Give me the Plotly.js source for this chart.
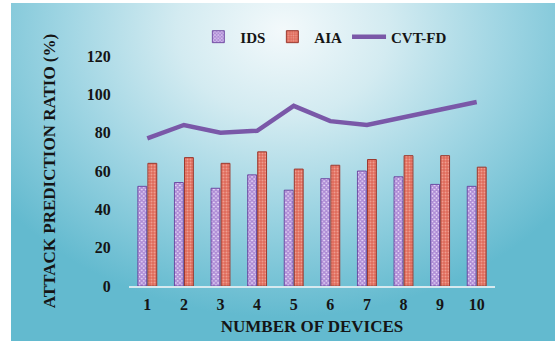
<!DOCTYPE html>
<html>
<head>
<meta charset="utf-8">
<script src="https://cdn.plot.ly/plotly-3.0.1.min.js"></script>
<style>
  html, body { margin: 0; padding: 0; background: #ffffff; width: 555px; height: 341px; overflow: hidden; }
  #bg { position: absolute; left: 11px; top: 3px; width: 544px; height: 338px;
        background: radial-gradient(ellipse 65% 85% at 50% 8%, #f3f9fb 0%, #d3ebf1 30%, #9fd5e3 62%, #63bacf 100%); }
  #chart { position: absolute; left: 0; top: 0; width: 555px; height: 341px; }
</style>
</head>
<body>
<div id="bg"></div>
<div id="chart"></div>
<script>
const categories = ["1", "2", "3", "4", "5", "6", "7", "8", "9", "10"];
const idsValues = [52, 54, 51, 58, 50, 56, 60, 57, 53, 52];
const aiaValues = [64, 67, 64, 70, 61, 63, 66, 68, 68, 62];
const cvtValues = [77, 84, 80, 81, 94, 86, 84, 88, 92, 96];
const yTicks = [0, 20, 40, 60, 80, 100, 120];

const font = "Liberation Serif, Times New Roman, serif";

const traces = [
  {
    type: "bar", name: "IDS", x: categories, y: idsValues,
    marker: {
      color: "#eadcf8",
      line: { color: "#5e3394", width: 0.8 },
      pattern: { shape: "x", fgcolor: "#6f3ab2", size: 3, solidity: 0.75, fillmode: "overlay" }
    }
  },
  {
    type: "bar", name: "AIA", x: categories, y: aiaValues,
    marker: {
      color: "#df6a5b",
      line: { color: "#9b3a30", width: 1 },
      pattern: { shape: ".", fgcolor: "#fbd0c4", size: 3, solidity: 0.35, fillmode: "overlay" }
    }
  },
  {
    type: "scatter", mode: "lines", name: "CVT-FD", x: categories, y: cvtValues,
    line: { color: "#7a58a8", width: 4.5 }
  }
];

const layout = {
  width: 555, height: 341,
  paper_bgcolor: "rgba(0,0,0,0)",
  plot_bgcolor: "rgba(0,0,0,0)",
  margin: { l: 129, r: 60, t: 56, b: 55 },
  barmode: "group",
  bargap: 0.45,
  bargroupgap: 0.12,
  font: { family: font, color: "#151515", size: 15, weight: "bold" },
  showlegend: true,
  legend: {
    orientation: "h", x: 0.184, xanchor: "left", y: 1.083, yanchor: "middle",
    font: { family: font, size: 15, color: "#151515", weight: "bold" },
    bgcolor: "rgba(0,0,0,0)", itemwidth: 34, tracegroupgap: 0
  },
  xaxis: {
    type: "category",
    showgrid: false, zeroline: false,
    showline: true, linecolor: "#d6e9ef", linewidth: 1.5,
    ticks: "outside", ticklen: 3, tickcolor: "rgba(0,0,0,0)",
    tickfont: { family: font, size: 16, color: "#151515", weight: "bold" },
    title: { text: "NUMBER OF DEVICES", font: { family: font, size: 17, color: "#151515", weight: "bold" }, standoff: 8 }
  },
  yaxis: {
    range: [0, 120],
    tickvals: yTicks, ticktext: yTicks.map(String),
    showgrid: false, zeroline: false, showline: false,
    ticks: "outside", ticklen: 14, tickcolor: "rgba(0,0,0,0)",
    tickfont: { family: font, size: 16, color: "#151515", weight: "bold" },
    title: { text: "ATTACK PREDICTION RATIO (%)", font: { family: font, size: 17, color: "#151515", weight: "bold" }, standoff: 26 }
  }
};

Plotly.newPlot("chart", traces, layout, { displayModeBar: false, staticPlot: true });
</script>
</body>
</html>
